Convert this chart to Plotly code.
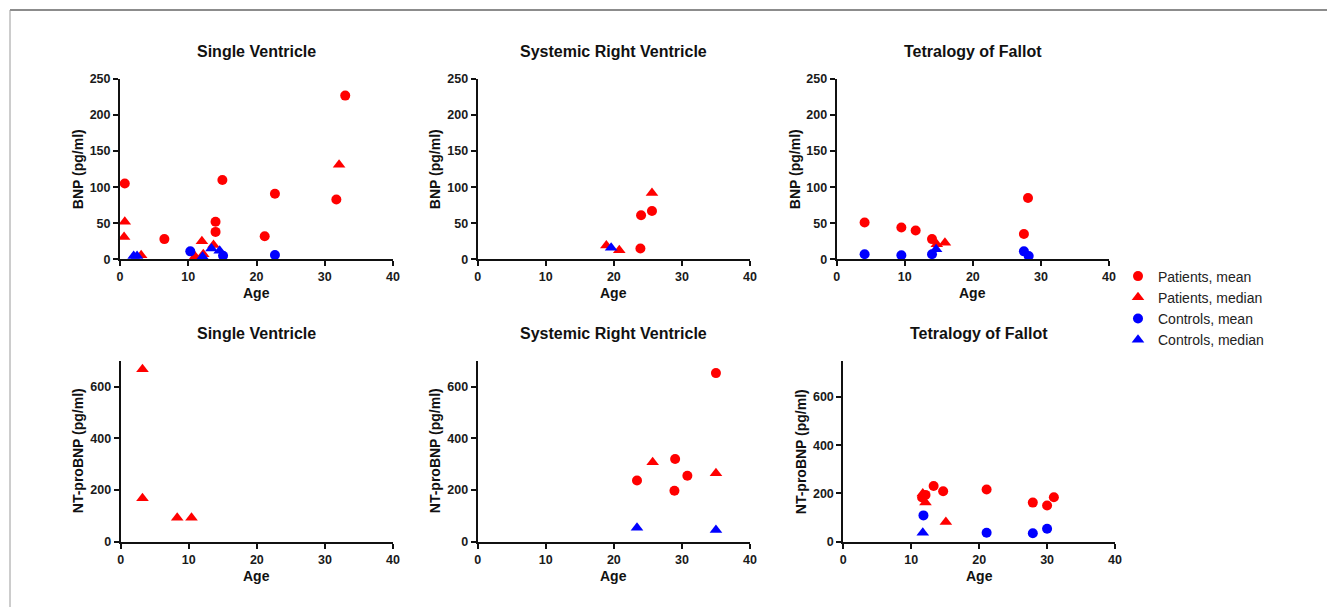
import plotly.graph_objects as go

W, H = 1327, 607
RED = "#FF0000"
BLUE = "#0000FF"
FONT = "Liberation Sans, Arial, sans-serif"

# ---------------- data (age, value) ----------------
# Panel 1: Single Ventricle, BNP
sv_bnp_pat_mean_age = [0.7, 6.5, 14.0, 14.0, 15.0, 21.2, 22.7, 31.7, 33.0]
sv_bnp_pat_mean_val = [105, 28, 52, 38, 110, 32, 91, 83, 227]
sv_bnp_pat_med_age = [0.7, 0.6, 3.1, 11.0, 12.0, 12.2, 13.7, 32.1]
sv_bnp_pat_med_val = [52, 31, 5.5, 4.0, 25, 7, 20, 131]
sv_bnp_ctl_mean_age = [10.3, 15.1, 22.7]
sv_bnp_ctl_mean_val = [11, 5, 6]
sv_bnp_ctl_med_age = [2.0, 2.5, 12.1, 13.4, 14.6]
sv_bnp_ctl_med_val = [4.6, 4.6, 3.6, 15, 12]

# Panel 2: Systemic Right Ventricle, BNP
srv_bnp_pat_mean_age = [23.9, 24.0, 25.6]
srv_bnp_pat_mean_val = [15, 61, 67]
srv_bnp_pat_med_age = [18.9, 20.8, 25.6]
srv_bnp_pat_med_val = [19, 12.5, 92]
srv_bnp_ctl_mean_age = []
srv_bnp_ctl_mean_val = []
srv_bnp_ctl_med_age = [19.6]
srv_bnp_ctl_med_val = [16]

# Panel 3: Tetralogy of Fallot, BNP
tof_bnp_pat_mean_age = [4.1, 9.5, 11.6, 14.0, 27.5, 28.1]
tof_bnp_pat_mean_val = [51, 44, 40, 28, 35, 85]
tof_bnp_pat_med_age = [14.7, 15.9]
tof_bnp_pat_med_val = [21, 23]
tof_bnp_ctl_mean_age = [4.1, 9.5, 14.0, 27.5, 28.2]
tof_bnp_ctl_mean_val = [7, 5.5, 7, 11, 4.6]
tof_bnp_ctl_med_age = [14.6]
tof_bnp_ctl_med_val = [14]

# Panel 4: Single Ventricle, NT-proBNP
sv_nt_pat_mean_age = []
sv_nt_pat_mean_val = []
sv_nt_pat_med_age = [3.2, 3.2, 8.3, 10.4]
sv_nt_pat_med_val = [667, 168, 93, 93]
sv_nt_ctl_mean_age = []
sv_nt_ctl_mean_val = []
sv_nt_ctl_med_age = []
sv_nt_ctl_med_val = []

# Panel 5: Systemic Right Ventricle, NT-proBNP
srv_nt_pat_mean_age = [23.4, 29.0, 28.9, 30.8, 35.0]
srv_nt_pat_mean_val = [237, 320, 197, 255, 652]
srv_nt_pat_med_age = [25.7, 35.0]
srv_nt_pat_med_val = [307, 265]
srv_nt_ctl_mean_age = []
srv_nt_ctl_mean_val = []
srv_nt_ctl_med_age = [23.4, 35.0]
srv_nt_ctl_med_val = [54, 45]

# Panel 6: Tetralogy of Fallot, NT-proBNP
tof_nt_pat_mean_age = [11.6, 12.1, 13.3, 14.7, 21.1, 27.9, 30.0, 31.0]
tof_nt_pat_mean_val = [183, 194, 231, 209, 216, 162, 150, 184]
tof_nt_pat_med_age = [11.7, 12.1, 15.1]
tof_nt_pat_med_val = [200, 162, 82]
tof_nt_ctl_mean_age = [11.8, 21.1, 27.9, 30.0]
tof_nt_ctl_mean_val = [109, 37, 35, 54]
tof_nt_ctl_med_age = [11.7]
tof_nt_ctl_med_val = [37]

panel_titles = ["Single Ventricle", "Systemic Right Ventricle", "Tetralogy of Fallot"]
series_names = ["Patients, mean", "Patients, median", "Controls, mean", "Controls, median"]
x_ticks = [0, 10, 20, 30, 40]
bnp_ticks = [0, 50, 100, 150, 200, 250]
nt_ticks = [0, 200, 400, 600]

panels = [
    dict(data=[(sv_bnp_pat_mean_age, sv_bnp_pat_mean_val), (sv_bnp_pat_med_age, sv_bnp_pat_med_val),
               (sv_bnp_ctl_mean_age, sv_bnp_ctl_mean_val), (sv_bnp_ctl_med_age, sv_bnp_ctl_med_val)],
         title=panel_titles[0], ylab="BNP (pg/ml)", yrange=[0, 250], yticks=bnp_ticks,
         xpx=(120, 393), ypx=(79, 259.3), ylabx=78),
    dict(data=[(srv_bnp_pat_mean_age, srv_bnp_pat_mean_val), (srv_bnp_pat_med_age, srv_bnp_pat_med_val),
               (srv_bnp_ctl_mean_age, srv_bnp_ctl_mean_val), (srv_bnp_ctl_med_age, srv_bnp_ctl_med_val)],
         title=panel_titles[1], ylab="BNP (pg/ml)", yrange=[0, 250], yticks=bnp_ticks,
         xpx=(477.7, 750), ypx=(79, 259.3), ylabx=435),
    dict(data=[(tof_bnp_pat_mean_age, tof_bnp_pat_mean_val), (tof_bnp_pat_med_age, tof_bnp_pat_med_val),
               (tof_bnp_ctl_mean_age, tof_bnp_ctl_mean_val), (tof_bnp_ctl_med_age, tof_bnp_ctl_med_val)],
         title=panel_titles[2], ylab="BNP (pg/ml)", yrange=[0, 250], yticks=bnp_ticks,
         xpx=(836.7, 1109), ypx=(79, 259.3), ylabx=795),
    dict(data=[(sv_nt_pat_mean_age, sv_nt_pat_mean_val), (sv_nt_pat_med_age, sv_nt_pat_med_val),
               (sv_nt_ctl_mean_age, sv_nt_ctl_mean_val), (sv_nt_ctl_med_age, sv_nt_ctl_med_val)],
         title=panel_titles[0], ylab="NT-proBNP (pg/ml)", yrange=[0, 700], yticks=nt_ticks,
         xpx=(120.7, 393), ypx=(360.7, 541.7), ylabx=78),
    dict(data=[(srv_nt_pat_mean_age, srv_nt_pat_mean_val), (srv_nt_pat_med_age, srv_nt_pat_med_val),
               (srv_nt_ctl_mean_age, srv_nt_ctl_mean_val), (srv_nt_ctl_med_age, srv_nt_ctl_med_val)],
         title=panel_titles[1], ylab="NT-proBNP (pg/ml)", yrange=[0, 700], yticks=nt_ticks,
         xpx=(477.7, 750), ypx=(360.7, 541.7), ylabx=435),
    dict(data=[(tof_nt_pat_mean_age, tof_nt_pat_mean_val), (tof_nt_pat_med_age, tof_nt_pat_med_val),
               (tof_nt_ctl_mean_age, tof_nt_ctl_mean_val), (tof_nt_ctl_med_age, tof_nt_ctl_med_val)],
         title=panel_titles[2], ylab="NT-proBNP (pg/ml)", yrange=[0, 750], yticks=nt_ticks,
         xpx=(843.3, 1115), ypx=(360.7, 541.7), ylabx=801),
]

styles = [(RED, "circle", 10), (RED, "triangle-up", 11), (BLUE, "circle", 10), (BLUE, "triangle-up", 11)]


def px_x(p):
    return p / W


def px_y(p):
    return 1 - p / H


fig = go.Figure()
annotations = []
layout = {}

for i, pnl in enumerate(panels):
    n = "" if i == 0 else str(i + 1)
    xa, ya = "x" + n, "y" + n
    for k, ((ages, vals), (col, sym, sz)) in enumerate(zip(pnl["data"], styles)):
        fig.add_trace(go.Scatter(
            x=ages if ages else [None], y=vals if vals else [None],
            mode="markers", xaxis=xa, yaxis=ya, cliponaxis=False,
            marker=dict(color=col, symbol=sym, size=sz, line=dict(width=0)),
            name=series_names[k], showlegend=(i == 0),
        ))
    axis_common = dict(showgrid=False, zeroline=False, showline=True, linecolor="#111111", linewidth=2,
                       ticks="outside", ticklen=5, tickwidth=2, tickcolor="#111111",
                       tickfont=dict(family=FONT, size=12.5, color="#1a1a1a", weight="bold"),
                       fixedrange=True, automargin=False)
    layout["xaxis" + n] = dict(axis_common, domain=[px_x(pnl["xpx"][0]), px_x(pnl["xpx"][1])],
                               range=[0, 40], tickvals=x_ticks, anchor=ya)
    layout["yaxis" + n] = dict(axis_common, domain=[px_y(pnl["ypx"][1]), px_y(pnl["ypx"][0])],
                               range=pnl["yrange"], tickvals=pnl["yticks"], anchor=xa)
    cx = (pnl["xpx"][0] + pnl["xpx"][1]) / 2
    top = pnl["ypx"][0]
    bottom = pnl["ypx"][1]
    annotations.append(dict(text=pnl["title"], xref="paper", yref="paper", x=px_x(cx), y=px_y(top - 27),
                            showarrow=False, xanchor="center", yanchor="middle",
                            font=dict(family=FONT, size=16, color="#111111", weight="bold")))
    annotations.append(dict(text="Age", xref="paper", yref="paper", x=px_x(cx), y=px_y(bottom + 34),
                            showarrow=False, xanchor="center", yanchor="middle",
                            font=dict(family=FONT, size=14, color="#111111", weight="bold")))
    annotations.append(dict(text=pnl["ylab"], xref="paper", yref="paper", x=px_x(pnl["ylabx"]),
                            y=px_y((top + bottom) / 2), textangle=-90,
                            showarrow=False, xanchor="center", yanchor="middle",
                            font=dict(family=FONT, size=14, color="#111111", weight="bold")))

fig.update_layout(
    **layout,
    annotations=annotations,
    width=W, height=H,
    margin=dict(l=0, r=0, t=0, b=0),
    paper_bgcolor="white", plot_bgcolor="white",
    showlegend=True,
    legend=dict(x=px_x(1118), y=px_y(260.5), xanchor="left", yanchor="top", tracegroupgap=0,
                font=dict(family=FONT, size=14, color="#222222"),
                bgcolor="rgba(0,0,0,0)", itemclick=False, itemdoubleclick=False),
    shapes=[
        dict(type="line", xref="paper", yref="paper", x0=px_x(10), x1=1, y0=px_y(10), y1=px_y(10),
             line=dict(color="#8c8c8c", width=2)),
        dict(type="line", xref="paper", yref="paper", x0=px_x(10), x1=px_x(10), y0=px_y(10), y1=0,
             line=dict(color="#9a9a9a", width=1)),
    ],
)

post = (
    "document.documentElement.style.margin='0';"
    "document.documentElement.style.overflow='hidden';"
    "document.body.style.margin='0';document.body.style.overflow='hidden';"
)
fig.write_html("out.html", config={"displayModeBar": False}, post_script=post)
